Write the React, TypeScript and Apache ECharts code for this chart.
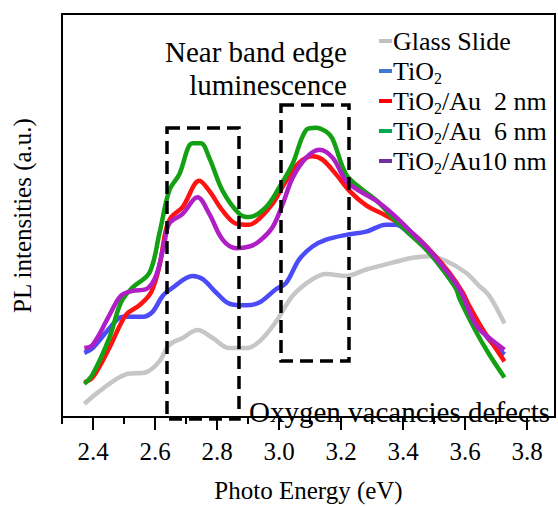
import React, { useEffect, useRef } from "react";
import * as echarts from "echarts";

const FONT = '"Liberation Serif", "Times New Roman", serif';

const SERIES_NAMES = ["Glass Slide", "TiO2", "TiO2/Au  2 nm", "TiO2/Au  6 nm", "TiO2/Au10 nm"];
const LINE_COLORS = ["#c6c6c6", "#4b4cf8", "#ff1212", "#13a013", "#b01ec6"];
const LEGEND_COLORS = ["#c0c0c0", "#3d7ad8", "#ff0000", "#00a84f", "#7030a0"];

const GLASS_X = [2.372, 2.431, 2.506, 2.571, 2.614, 2.646, 2.689, 2.737, 2.786, 2.84, 2.894, 2.936, 2.99, 3.044, 3.108, 3.152, 3.216, 3.281, 3.366, 3.431, 3.485, 3.539, 3.603, 3.646, 3.678, 3.727];
const GLASS_Y = [3.3, 7.0, 10.6, 11.1, 13.8, 17.9, 19.6, 21.6, 19.6, 17.1, 17.1, 18.7, 23.6, 30.1, 34.2, 35.5, 35.0, 36.6, 38.3, 39.5, 39.9, 38.7, 35.8, 32.5, 30.1, 23.2];

const TIO2_X = [2.372, 2.399, 2.453, 2.496, 2.56, 2.592, 2.625, 2.657, 2.721, 2.754, 2.797, 2.84, 2.894, 2.936, 2.99, 3.023, 3.065, 3.108, 3.152, 3.216, 3.281, 3.345, 3.377, 3.42, 3.474, 3.528, 3.582, 3.635, 3.678, 3.727];
const TIO2_Y = [15.9, 17.1, 22.0, 24.9, 24.9, 26.1, 30.1, 32.1, 35.0, 34.2, 30.9, 28.1, 27.7, 28.4, 31.7, 33.3, 39.1, 42.3, 44.0, 45.2, 46.0, 47.7, 47.7, 45.5, 41.9, 36.6, 30.9, 23.6, 19.1, 15.5];

const AU2_X = [2.372, 2.399, 2.453, 2.506, 2.549, 2.587, 2.614, 2.635, 2.652, 2.689, 2.743, 2.775, 2.818, 2.861, 2.904, 2.936, 2.979, 3.023, 3.065, 3.108, 3.141, 3.184, 3.227, 3.281, 3.334, 3.388, 3.442, 3.495, 3.549, 3.592, 3.614, 3.657, 3.689, 3.727];
const AU2_Y = [8.6, 9.8, 17.2, 25.3, 27.7, 30.9, 37.4, 46.4, 49.6, 52.1, 58.6, 56.1, 51.2, 48.0, 47.7, 49.2, 52.9, 58.6, 63.1, 64.7, 63.8, 60.2, 56.1, 52.5, 50.4, 48.0, 44.8, 40.7, 35.8, 30.9, 27.5, 21.7, 18.1, 13.8];

const AU6_X = [2.372, 2.399, 2.453, 2.49, 2.527, 2.582, 2.614, 2.646, 2.678, 2.721, 2.748, 2.775, 2.818, 2.872, 2.904, 2.958, 3.001, 3.043, 3.087, 3.119, 3.152, 3.172, 3.216, 3.259, 3.313, 3.365, 3.42, 3.474, 3.527, 3.571, 3.582, 3.635, 3.678, 3.727];
const AU6_Y = [8.2, 10.6, 19.7, 28.4, 32.1, 35.8, 45.5, 56.2, 60.2, 67.9, 67.9, 64.3, 56.1, 50.4, 49.6, 52.1, 57.0, 62.7, 71.2, 71.8, 70.8, 69.1, 60.2, 57.0, 53.8, 49.6, 45.5, 41.6, 36.7, 31.8, 29.4, 21.2, 15.5, 9.8];

const AU10_X = [2.372, 2.399, 2.453, 2.49, 2.528, 2.571, 2.603, 2.63, 2.646, 2.689, 2.737, 2.775, 2.818, 2.861, 2.904, 2.936, 2.979, 3.012, 3.044, 3.087, 3.13, 3.173, 3.216, 3.259, 3.313, 3.366, 3.42, 3.474, 3.528, 3.582, 3.635, 3.678, 3.727];
const AU10_Y = [17.1, 17.9, 25.3, 30.1, 31.3, 31.7, 35.0, 43.2, 48.0, 50.4, 54.5, 50.4, 44.0, 41.9, 42.3, 43.6, 47.1, 52.9, 59.4, 64.3, 66.3, 64.3, 58.6, 56.1, 53.7, 50.4, 46.4, 42.3, 37.4, 31.7, 22.8, 19.6, 16.7];

const MAJOR_TICKS = [2.4, 2.6, 2.8, 3.0, 3.2, 3.4, 3.6, 3.8];
const MINOR_TICKS = [2.3, 2.5, 2.7, 2.9, 3.1, 3.3, 3.5, 3.7];
const X_MIN = 2.3;
const X_MAX = 3.89;

const SERIES_X = [GLASS_X, TIO2_X, AU2_X, AU6_X, AU10_X];
const SERIES_Y = [GLASS_Y, TIO2_Y, AU2_Y, AU6_Y, AU10_Y];

function zip(xs: number[], ys: number[]) {
  return xs.map((x, i) => [x, ys[i]]);
}

export default function App() {
  const ref = useRef<HTMLDivElement>(null);
  useEffect(() => {
    if (!ref.current) return;
    const chart = echarts.init(ref.current, null, { renderer: "svg" });
    const option: any = {
      animation: false,
      backgroundColor: "#fff",
      textStyle: { fontFamily: FONT },
      grid: {
        left: 62,
        top: 14,
        width: 493,
        height: 419,
        show: true,
        borderColor: "#000",
        borderWidth: 2,
        backgroundColor: "transparent",
      },
      legend: {
        orient: "vertical",
        left: 374,
        top: 21,
        itemWidth: 13,
        itemHeight: 4,
        itemGap: 0,
        icon: "rect",
        data: SERIES_NAMES.map((n, i) => ({ name: n, itemStyle: { color: LEGEND_COLORS[i] } })),
        formatter: (name: string) => name.replace("TiO2", "TiO{s|2}"),
        textStyle: {
          fontFamily: FONT,
          fontSize: 26,
          color: "#000",
          lineHeight: 30,
          padding: [0, 0, 0, -4],
          rich: {
            s: { fontFamily: FONT, fontSize: 16, lineHeight: 17, verticalAlign: "bottom", color: "#000" },
          },
        },
      },
      xAxis: [
        {
          type: "value",
          min: X_MIN,
          max: X_MAX,
          position: "bottom",
          name: "Photo Energy (eV)",
          nameLocation: "middle",
          nameGap: 61,
          nameTextStyle: { fontFamily: FONT, fontSize: 25, color: "#000" },
          axisLine: { show: true, lineStyle: { color: "#000", width: 2 } },
          axisTick: { show: true, customValues: MAJOR_TICKS, length: 13, lineStyle: { color: "#000", width: 2 } },
          axisLabel: {
            show: true,
            customValues: MAJOR_TICKS,
            margin: 22,
            fontFamily: FONT,
            fontSize: 25,
            color: "#000",
            formatter: (v: number) => v.toFixed(1),
          },
          splitLine: { show: false },
        },
        {
          type: "value",
          min: X_MIN,
          max: X_MAX,
          position: "bottom",
          offset: 0,
          axisLine: { show: false },
          axisTick: { show: true, customValues: MINOR_TICKS, length: 7, lineStyle: { color: "#000", width: 2 } },
          axisLabel: { show: false },
          splitLine: { show: false },
        },
      ],
      yAxis: {
        type: "value",
        min: 0,
        max: 100,
        name: "PL intensities (a.u.)",
        nameLocation: "middle",
        nameRotate: 90,
        nameGap: 27,
        nameTextStyle: { fontFamily: FONT, fontSize: 25, color: "#000" },
        axisLine: { show: true, lineStyle: { color: "#000", width: 2 } },
        axisTick: { show: false },
        axisLabel: { show: false },
        splitLine: { show: false },
      },
      series: SERIES_NAMES.map((n, i) => ({
        name: n,
        type: "line",
        xAxisIndex: 0,
        data: zip(SERIES_X[i], SERIES_Y[i]),
        showSymbol: false,
        symbol: "none",
        smooth: 0.35,
        lineStyle: { color: LINE_COLORS[i], width: 4.5 },
        itemStyle: { color: LINE_COLORS[i] },
        z: 2 + i,
      })),
      graphic: [
        {
          type: "rect",
          z: 100,
          shape: { x: 167, y: 128, width: 72, height: 291 },
          style: { fill: "none", stroke: "#000", lineWidth: 3.5, lineDash: [13, 7] },
        },
        {
          type: "rect",
          z: 100,
          shape: { x: 281, y: 105, width: 68, height: 256 },
          style: { fill: "none", stroke: "#000", lineWidth: 3.5, lineDash: [13, 7] },
        },
        {
          type: "text",
          z: 100,
          x: 347,
          y: 37,
          style: { text: "Near band edge", fontFamily: FONT, fontSize: 29, fill: "#000", align: "right", verticalAlign: "top" },
        },
        {
          type: "text",
          z: 100,
          x: 347,
          y: 70,
          style: { text: "luminescence", fontFamily: FONT, fontSize: 29, fill: "#000", align: "right", verticalAlign: "top" },
        },
        {
          type: "text",
          z: 100,
          x: 249,
          y: 397,
          style: { text: "Oxygen vacancies defects", fontFamily: FONT, fontSize: 29, fill: "#000", align: "left", verticalAlign: "top" },
        },
      ],
    };
    chart.setOption(option);
    return () => chart.dispose();
  }, []);
  return <div ref={ref} style={{ width: 558, height: 508, position: "absolute", left: 0, top: 0 }} />;
}
